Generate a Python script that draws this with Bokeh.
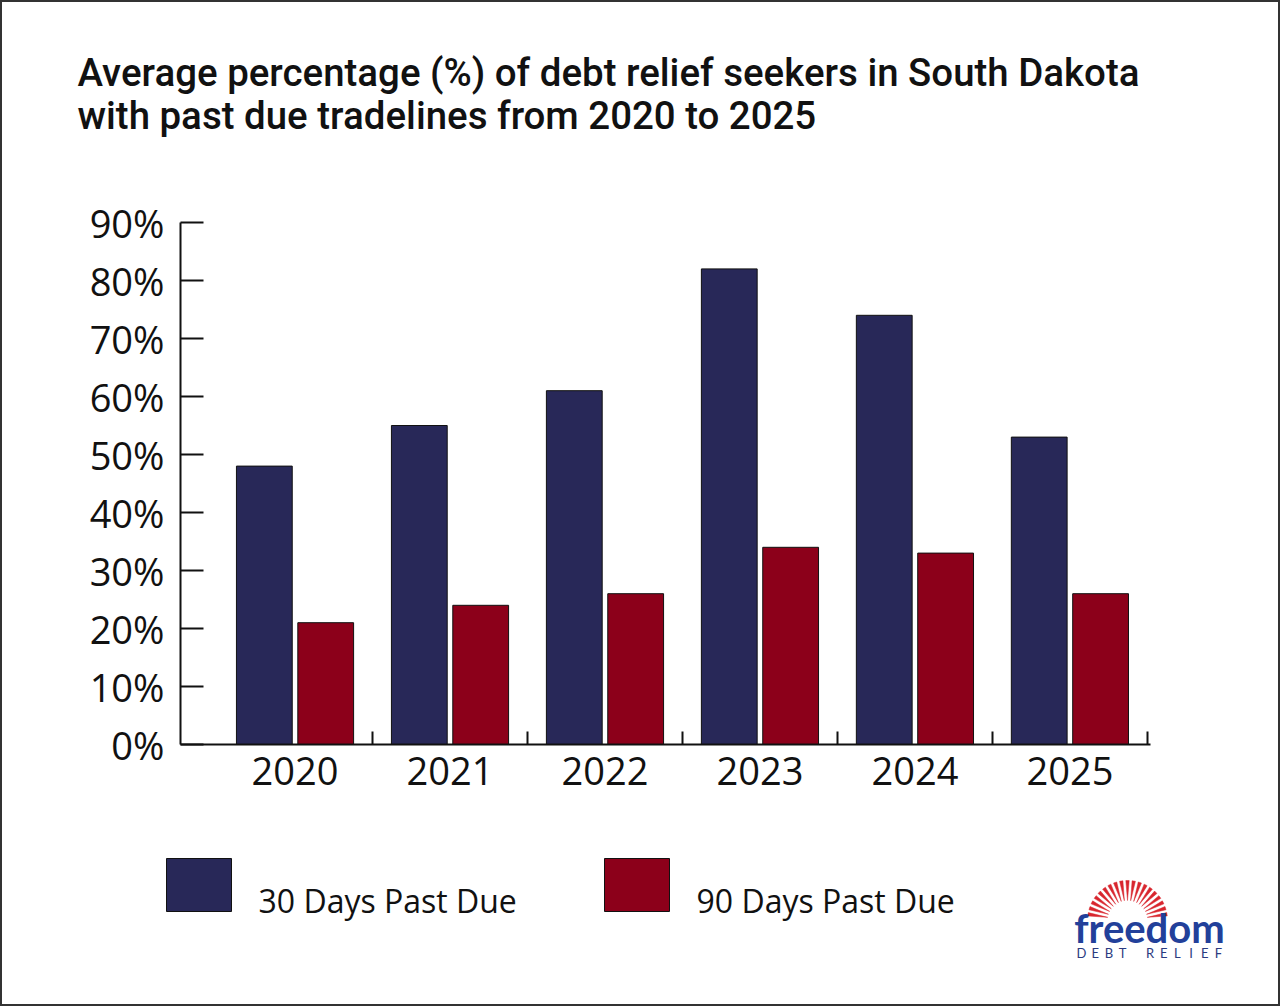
import numpy as np
from bokeh.plotting import figure
from bokeh.layouts import column
from bokeh.models import ColumnDataSource, Range1d, FixedTicker, PrintfTickFormatter
from bokeh.transform import dodge
from bokeh.core.properties import value
from bokeh.embed import file_html
from bokeh.resources import INLINE

# ---- data ----
years = ["2020", "2021", "2022", "2023", "2024", "2025"]
past_due_30 = [48, 55, 61, 82, 74, 53]
past_due_90 = [21, 24, 26, 34, 33, 26]
y_ticks = [0, 10, 20, 30, 40, 50, 60, 70, 80, 90]
title_lines = ["Average percentage (%) of debt relief seekers in South Dakota",
               "with past due tradelines from 2020 to 2025"]
series_names = ["30 Days Past Due", "90 Days Past Due"]

NAVY = "#282858"
RED = "#8C001A"
INK = "#111111"

W = 1276               # inner width (2px CSS border each side)
H_HEAD, H_CHART, H_FOOT = 188, 630, 184


def no_align(f):
    try:
        f.frame_align = False
    except Exception:
        pass


def blank(height):
    f = figure(width=W, height=height, output_backend="svg", toolbar_location=None,
               x_range=Range1d(0, W), y_range=Range1d(height, 0),
               min_border=0, min_border_left=0, min_border_right=0,
               min_border_top=0, min_border_bottom=0)
    f.axis.visible = False
    f.grid.visible = False
    f.outline_line_color = None
    f.background_fill_color = "white"
    f.border_fill_color = "white"
    no_align(f)
    return f


# ---- header (title) ----
head = blank(H_HEAD)
head.text(x=[75, 75], y=[70, 113], text=title_lines,
          text_font=value("Roboto Medium"), text_font_size="38.4px",
          text_color=INK, text_baseline="middle", text_align="left")

# ---- chart ----
idx = list(range(len(years)))
src = ColumnDataSource(dict(x=idx, a=past_due_30, b=past_due_90))

p = figure(width=W, height=H_CHART, output_backend="svg", toolbar_location=None,
           x_range=Range1d(-0.739, 5.52), y_range=Range1d(0, 90),
           min_border_left=178, min_border_right=128,
           min_border_top=32, min_border_bottom=76)
no_align(p)
p.outline_line_color = None
p.xgrid.visible = False
p.ygrid.visible = False
p.background_fill_color = "white"
p.border_fill_color = "white"

p.vbar(x=dodge("x", -0.198, range=p.x_range), top="a", width=0.36, source=src,
       fill_color=NAVY, line_color=INK, line_width=1)
p.vbar(x=dodge("x", 0.198, range=p.x_range), top="b", width=0.36, source=src,
       fill_color=RED, line_color=INK, line_width=1)

ya = p.yaxis[0]
ya.ticker = FixedTicker(ticks=y_ticks, minor_ticks=[])
ya.formatter = PrintfTickFormatter(format="%d%%")
ya.major_tick_in = 23
ya.major_tick_out = 0
ya.minor_tick_in = 0
ya.minor_tick_out = 0
ya.axis_line_width = 2
ya.major_tick_line_width = 2
ya.axis_line_color = INK
ya.major_tick_line_color = INK
ya.major_label_text_font = "Open Sans"
ya.major_label_text_font_size = "38px"
ya.major_label_text_color = INK
ya.major_label_standoff = 16

xa = p.xaxis[0]
xa.ticker = FixedTicker(ticks=idx, minor_ticks=[i + 0.5 for i in idx])
xa.major_label_overrides = {i: y for i, y in zip(idx, years)}
xa.major_tick_in = 0
xa.major_tick_out = 0
xa.minor_tick_in = 13
xa.minor_tick_out = 0
xa.minor_tick_line_width = 2
xa.minor_tick_line_color = INK
xa.axis_line_width = 2
xa.axis_line_color = INK
xa.major_label_text_font = "Open Sans"
xa.major_label_text_font_size = "38px"
xa.major_label_text_color = INK
xa.major_label_standoff = 12

# ---- footer (legend + logo) ----
foot = blank(H_FOOT)
# page coords -> footer coords: x - 2, y - 820
box_left = [164, 602]
foot.quad(left=box_left, right=[b + 65 for b in box_left], top=[38, 38], bottom=[91, 91],
          fill_color=[NAVY, RED], line_color=INK, line_width=1)
foot.text(x=[256, 694], y=[80, 80], text=series_names, text_font=value("Open Sans"),
          text_font_size="32px", text_color=INK, text_baseline="middle")

# logo sun rays
cx, cy, r_in, r_out = 1125, 100, 20, 40
rx, ry = [], []
for ang in np.linspace(np.radians(9), np.radians(171), 19):
    half = np.radians(2.4)
    rx.append([cx + r_in * np.cos(ang), cx + r_out * np.cos(ang - half), cx + r_out * np.cos(ang + half)])
    ry.append([cy - r_in * np.sin(ang), cy - r_out * np.sin(ang - half), cy - r_out * np.sin(ang + half)])
foot.patches(xs=rx, ys=ry, fill_color="#D8262E", line_color="#D8262E", line_width=0.5)
foot.text(x=[1147], y=[107], text=["freedom"], text_font=value("Lato"), text_font_size="40px",
          text_font_style="bold", text_color="#22409A", text_align="center",
          text_baseline="middle")
letters = list("DEBT RELIEF")
foot.text(x=list(np.linspace(1079, 1216, len(letters))), y=[132] * len(letters), text=letters,
          text_font=value("Lato"), text_font_size="13px", text_color="#2B3A80",
          text_align="center", text_baseline="middle")

layout = column(head, p, foot, spacing=0,
                styles={"border": "2px solid #333333", "background-color": "white"})

open("out.html", "w").write(file_html(layout, INLINE))
